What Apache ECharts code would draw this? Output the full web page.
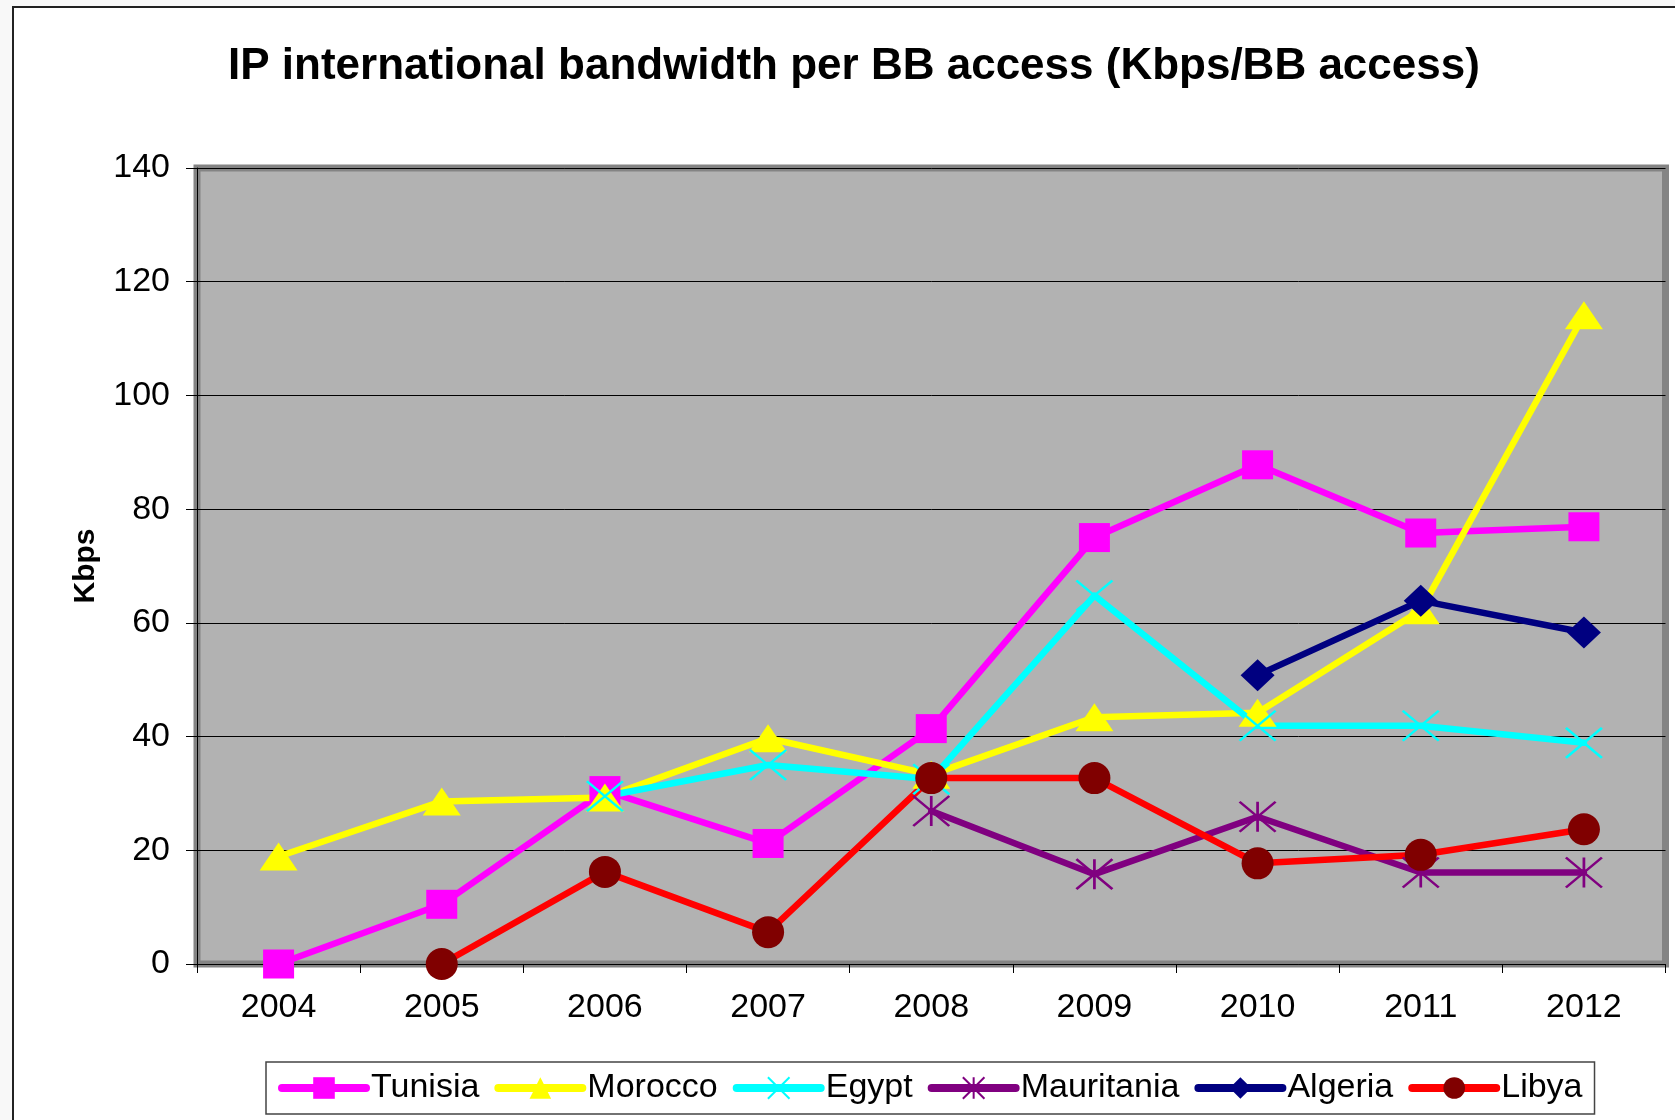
<!DOCTYPE html>
<html>
<head>
<meta charset="utf-8">
<title>IP international bandwidth per BB access</title>
<script src="https://cdn.jsdelivr.net/npm/echarts@6/dist/echarts.min.js"></script>
<style>
  html, body { margin: 0; padding: 0; background: #f8f8f8; overflow: hidden; }
  #frame {
    position: absolute; left: 12px; top: 6px; width: 1800px; height: 1300px;
    background: #ffffff; border-left: 2px solid #222; border-top: 2px solid #222;
  }
  #chart { position: absolute; left: 0; top: 0; width: 1675px; height: 1120px; }
</style>
</head>
<body>
<div id="frame"></div>
<div id="chart"></div>
<script>
// Years on the horizontal axis
const years = ['2004', '2005', '2006', '2007', '2008', '2009', '2010', '2011', '2012'];

// Kbps per broadband access, by country (null = no data for that year)
const tunisia    = [0, 10.5, 30.5, 21.2, 41.4, 75.0, 87.8, 75.8, 76.9];
const morocco    = [18.9, 28.6, 29.3, 39.7, 33.3, 43.4, 44.2, 62.2, 114.1];
const egypt      = [null, null, 29.5, 35.0, 32.5, 64.8, 41.9, 41.9, 38.9];
const mauritania = [null, null, null, null, 26.9, 15.8, 25.9, 16.1, 16.1];
const algeria    = [null, null, null, null, null, null, 50.8, 63.9, 58.3];
const libya      = [null, 0, 16.2, 5.6, 32.7, 32.7, 17.7, 19.2, 23.7];

// Y axis ticks
const yTicks = { min: 0, max: 140, step: 20 };

const FONT = '"Liberation Sans", Arial, sans-serif';

// Stroke-only marker outlines
const crossPath = 'path://M0 0 L36 30 M36 0 L0 30';
const starPath  = 'path://M0 0 L36 30 M36 0 L0 30 M18 0 L18 30';

function lineSeries(name, data, lineColor, markColor, symbol, size, extra) {
  return Object.assign({
    name: name,
    type: 'line',
    data: data,
    symbol: symbol,
    symbolSize: size,
    symbolKeepAspect: false,
    showAllSymbol: true,
    connectNulls: false,
    lineStyle: { color: lineColor, width: 6.5, cap: 'round', join: 'round' },
    itemStyle: { color: markColor },
    emphasis: { disabled: true }
  }, extra || {});
}

const chart = echarts.init(document.getElementById('chart'), null, { renderer: 'canvas' });

chart.setOption({
  animation: false,
  backgroundColor: 'transparent',
  title: {
    text: 'IP international bandwidth per BB access (Kbps/BB access)',
    left: 228,
    top: 45,
    padding: 0,
    textStyle: { fontFamily: FONT, fontSize: 44, fontWeight: 'bold', color: '#000' }
  },
  grid: {
    left: 197, right: 9.5, top: 168, bottom: 156,
    show: true,
    backgroundColor: '#b2b2b2',
    borderColor: '#848484',
    borderWidth: 7
  },
  xAxis: {
    type: 'category',
    data: years,
    boundaryGap: true,
    axisLine: { show: true, lineStyle: { color: '#000', width: 1 } },
    axisTick: { show: true, inside: false, length: 9, lineStyle: { color: '#000' } },
    axisLabel: { margin: 27, fontFamily: FONT, fontSize: 34, color: '#000' },
    splitLine: { show: false }
  },
  yAxis: {
    type: 'value',
    min: yTicks.min, max: yTicks.max, interval: yTicks.step,
    name: 'Kbps',
    nameLocation: 'middle',
    nameRotate: 90,
    nameGap: 96,
    nameTextStyle: { fontFamily: FONT, fontSize: 30, fontWeight: 'bold', color: '#000' },
    axisLine: { show: true, lineStyle: { color: '#000', width: 1 } },
    axisTick: { show: true, inside: false, length: 11, lineStyle: { color: '#000' } },
    axisLabel: { margin: 27, fontFamily: FONT, fontSize: 34, color: '#000' },
    splitLine: { show: true, lineStyle: { color: '#000', width: 1 } }
  },
  legend: {
    left: 266, top: 1062,
    orient: 'horizontal',
    padding: [9, 12],
    itemGap: 15,
    itemWidth: 84,
    itemHeight: 27,
    borderColor: '#444',
    borderWidth: 1.5,
    backgroundColor: '#fff',
    lineStyle: { width: 8, cap: 'round' },
    textStyle: { fontFamily: FONT, fontSize: 34, color: '#000', padding: [0, 0, 0, 0] },
    data: ['Tunisia', 'Morocco', 'Egypt', 'Mauritania', 'Algeria', 'Libya']
  },
  series: [
    lineSeries('Tunisia', tunisia, '#ff00ff', '#ff00ff', 'rect', [31, 29]),
    lineSeries('Morocco', morocco, '#ffff00', '#ffff00', 'triangle', [38, 28]),
    lineSeries('Egypt', egypt, '#00ffff', '#00ffff', crossPath, [36, 30], {
      itemStyle: { color: '#00ffff', borderColor: '#00ffff', borderWidth: 2.5 }
    }),
    lineSeries('Mauritania', mauritania, '#800080', '#800080', starPath, [36, 30], {
      itemStyle: { color: '#800080', borderColor: '#800080', borderWidth: 2.5 }
    }),
    lineSeries('Algeria', algeria, '#000080', '#000080', 'diamond', [34, 32]),
    lineSeries('Libya', libya, '#ff0000', '#800000', 'circle', 32)
  ]
});
</script>
</body>
</html>
